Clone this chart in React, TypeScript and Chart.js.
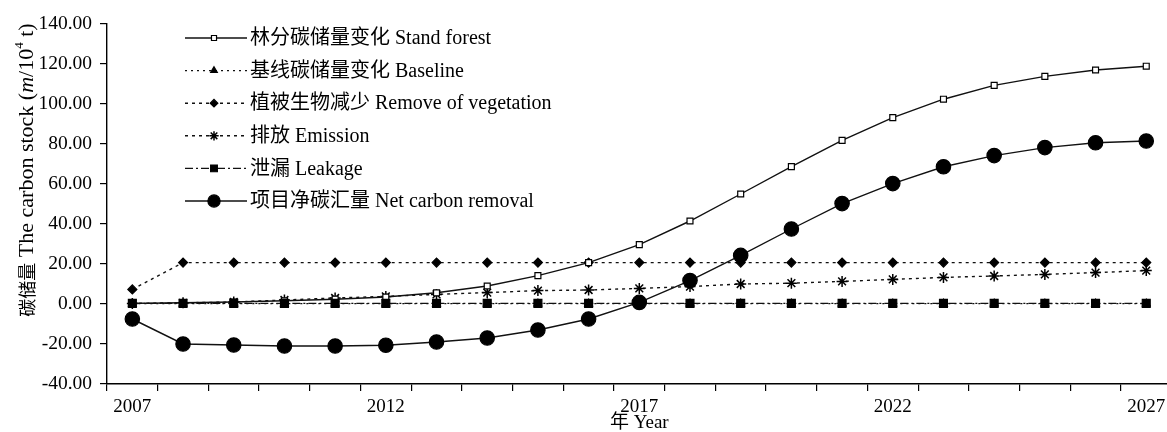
import React, { useEffect, useRef } from 'react';
import { Chart, registerables } from 'chart.js';
import { drawPoint } from 'chart.js/helpers';

Chart.register(...registerables);

const years = ['2007', '2008', '2009', '2010', '2011', '2012', '2013', '2014', '2015', '2016', '2017', '2018', '2019', '2020', '2021', '2022', '2023', '2024', '2025', '2026', '2027'];
const xTickLabels = ['2007', '2012', '2017', '2022', '2027'];
const yTicks = [-40, -20, 0, 20, 40, 60, 80, 100, 120, 140];

const standForest = [0.3, 0.6, 1.0, 1.6, 2.4, 3.5, 5.6, 9.0, 14.2, 20.7, 29.7, 41.5, 55.0, 68.7, 81.8, 93.2, 102.4, 109.3, 113.8, 117.0, 118.9];
const baseline = [0.2, 0.2, 0.2, 0.2, 0.2, 0.2, 0.2, 0.2, 0.2, 0.2, 0.2, 0.2, 0.2, 0.2, 0.2, 0.2, 0.2, 0.2, 0.2, 0.2, 0.2];
const removeVegetation = [7.3, 20.7, 20.7, 20.7, 20.7, 20.7, 20.7, 20.7, 20.7, 20.7, 20.7, 20.7, 20.7, 20.7, 20.7, 20.7, 20.7, 20.7, 20.7, 20.7, 20.7];
const emission = [0.3, 0.6, 1.0, 2.0, 3.0, 3.8, 4.8, 5.7, 6.7, 7.0, 7.8, 8.7, 10.0, 10.4, 11.3, 12.3, 13.3, 14.0, 14.8, 15.7, 16.7];
const leakage = [0.3, 0.3, 0.3, 0.3, 0.3, 0.3, 0.3, 0.3, 0.3, 0.3, 0.3, 0.3, 0.3, 0.3, 0.3, 0.3, 0.3, 0.3, 0.3, 0.3, 0.3];
const netRemoval = [-7.5, -20.0, -20.5, -21.0, -21.0, -20.6, -19.0, -17.0, -13.0, -7.5, 0.8, 11.7, 24.3, 37.5, 50.2, 60.2, 68.6, 74.2, 78.2, 80.6, 81.5];

const seriesNames = [
  '林分碳储量变化 Stand forest',
  '基线碳储量变化 Baseline',
  '植被生物减少 Remove of vegetation',
  '排放 Emission',
  '泄漏 Leakage',
  '项目净碳汇量 Net carbon removal',
];

const SERIF = '"Liberation Serif", "Times New Roman", "Noto Sans CJK SC", serif';
const CJK = '"Noto Sans CJK SC", sans-serif';

const overlayPlugin = {
  id: 'overlay',
  afterDraw(chart: any) {
    const ctx = chart.ctx;
    ctx.save();
    // Legend
    const lx0 = 185, lx1 = 247, mx = 214, tx = 250, ly0 = 38, lstep = 32.6;
    chart.data.datasets.forEach((ds: any, i: number) => {
      const y = ly0 + i * lstep;
      ctx.save();
      ctx.strokeStyle = ds.borderColor;
      ctx.lineWidth = ds.borderWidth;
      ctx.setLineDash(ds.borderDash || []);
      ctx.beginPath();
      ctx.moveTo(lx0, y);
      ctx.lineTo(lx1, y);
      ctx.stroke();
      ctx.setLineDash([]);
      ctx.fillStyle = ds.pointBackgroundColor;
      ctx.strokeStyle = ds.pointBorderColor;
      ctx.lineWidth = ds.pointBorderWidth;
      drawPoint(ctx, { pointStyle: ds.pointStyle, radius: ds.pointRadius * 0.85, rotation: 0, borderWidth: ds.pointBorderWidth } as any, mx, y);
      ctx.restore();
      ctx.fillStyle = '#000';
      ctx.font = '20px ' + SERIF;
      ctx.textBaseline = 'middle';
      ctx.textAlign = 'left';
      ctx.fillText(ds.label, tx, y + 1);
    });

    // X title
    const xs = chart.scales.x;
    ctx.font = '19px ' + SERIF;
    ctx.textAlign = 'center';
    ctx.textBaseline = 'middle';
    ctx.fillStyle = '#000';
    ctx.fillText('年 Year', xs.getPixelForValue(10), 423);

    // Y title (rotated)
    const segs = [
      { t: '碳储量', f: '18px ' + CJK, dy: 0 },
      { t: ' The carbon stock (', f: '22px ' + SERIF, dy: 0 },
      { t: 'm', f: 'italic 22px ' + SERIF, dy: 0 },
      { t: '/10', f: '22px ' + SERIF, dy: 0 },
      { t: '4', f: '13px ' + SERIF, dy: -7 },
      { t: ' t)', f: '22px ' + SERIF, dy: 0 },
    ];
    let total = 0;
    const widths = segs.map((s) => {
      ctx.font = s.f;
      const w = ctx.measureText(s.t).width;
      total += w;
      return w;
    });
    ctx.translate(26, 170);
    ctx.rotate(-Math.PI / 2);
    ctx.textAlign = 'left';
    ctx.textBaseline = 'middle';
    let cx = -total / 2;
    segs.forEach((s, i) => {
      ctx.font = s.f;
      ctx.fillText(s.t, cx, s.dy + 1);
      cx += widths[i];
    });
    ctx.restore();
  },
};

export default function App() {
  const ref = useRef<HTMLCanvasElement | null>(null);
  useEffect(() => {
    if (!ref.current) return;
    const lineColor = '#111';
    const common = {
      borderColor: lineColor,
      borderWidth: 1.4,
      pointBorderColor: '#000',
      pointBorderWidth: 1.2,
      tension: 0,
      fill: false,
    };
    const chart = new Chart(ref.current, {
      type: 'line',
      data: {
        labels: years,
        datasets: [
          { ...common, label: seriesNames[0], data: standForest, pointStyle: 'rect', pointRadius: 4.2, pointBackgroundColor: '#fff', borderDash: [], order: 2 },
          { ...common, label: seriesNames[1], data: baseline, pointStyle: 'triangle', pointRadius: 4.5, pointBackgroundColor: '#000', borderDash: [2, 4], order: 5 },
          { ...common, label: seriesNames[2], data: removeVegetation, pointStyle: 'rectRot', pointRadius: 4.5, pointBackgroundColor: '#000', borderDash: [3, 4], order: 3 },
          { ...common, label: seriesNames[3], data: emission, pointStyle: 'star', pointRadius: 5.5, pointBackgroundColor: '#000', pointBorderWidth: 1.5, borderDash: [3, 4], order: 4 },
          { ...common, label: seriesNames[4], data: leakage, pointStyle: 'rect', pointRadius: 5.6, pointBackgroundColor: '#000', borderDash: [8, 3, 2, 3], order: 1 },
          { ...common, label: seriesNames[5], data: netRemoval, pointStyle: 'circle', pointRadius: 7.2, pointBackgroundColor: '#000', borderDash: [], order: 0 },
        ],
      },
      options: {
        responsive: false,
        animation: false,
        layout: { padding: { top: 24, right: 7, left: 0, bottom: 0 } },
        plugins: { legend: { display: false }, tooltip: { enabled: false }, title: { display: false } },
        scales: {
          x: {
            type: 'category',
            offset: true,
            grid: { offset: true, drawOnChartArea: false, drawTicks: true, tickLength: 7, color: '#000', lineWidth: 1.2 },
            border: { display: true, color: '#000', width: 1.4 },
            ticks: {
              autoSkip: false,
              maxRotation: 0,
              minRotation: 0,
              padding: 5,
              color: '#000',
              font: { family: SERIF, size: 19 },
              callback: (_v: any, idx: number) => (xTickLabels.includes(years[idx]) ? years[idx] : ''),
            },
            afterFit: (s: any) => { s.height = 48; },
          },
          y: {
            type: 'linear',
            min: yTicks[0],
            max: yTicks[yTicks.length - 1],
            afterBuildTicks: (s: any) => { s.ticks = yTicks.map((v) => ({ value: v })); },
            grid: { drawOnChartArea: false, drawTicks: true, tickLength: 7, color: '#000', lineWidth: 1.2 },
            border: { display: true, color: '#000', width: 1.4 },
            ticks: {
              padding: 8,
              color: '#000',
              font: { family: SERIF, size: 19.5 },
              callback: (v: any) => Number(v).toFixed(2),
            },
            afterFit: (s: any) => { s.width = 107; },
          },
        },
      },
      plugins: [overlayPlugin],
    } as any);
    return () => chart.destroy();
  }, []);

  return (
    <div style={{ position: 'fixed', left: 0, top: 0, width: 1167, height: 432, overflow: 'hidden', background: '#fff' }}>
      <canvas ref={ref} width={1180} height={432} style={{ display: 'block' }} />
    </div>
  );
}
